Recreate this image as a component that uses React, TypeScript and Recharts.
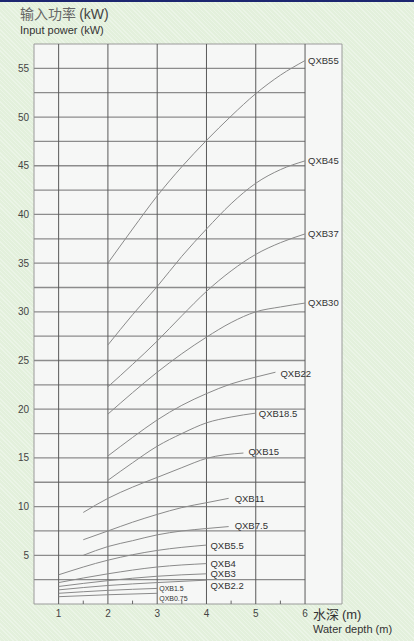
import { LineChart, Line, XAxis, YAxis, ReferenceLine, ReferenceArea } from 'recharts';

// curve points: [water depth m, input power kW]
const qxb55 = [[2, 35], [2.5, 38.5], [3, 41.9], [3.5, 44.9], [4, 47.6], [4.5, 50.1], [5, 52.4], [5.5, 54.3], [6, 55.8]];
const qxb45 = [[2, 26.6], [2.5, 29.7], [3, 32.6], [3.5, 35.7], [4, 38.5], [4.5, 41.1], [5, 43.2], [5.5, 44.6], [6, 45.5]];
const qxb37 = [[2, 22.3], [2.5, 24.6], [3, 27.0], [3.5, 29.6], [4, 32.1], [4.5, 34.2], [5, 35.9], [5.5, 37.1], [6, 38.0]];
const qxb30 = [[2, 19.5], [2.5, 21.7], [3, 23.8], [3.5, 25.7], [4, 27.4], [4.5, 28.9], [5, 30.0], [5.5, 30.5], [6, 30.9]];
const qxb22 = [[2, 15.2], [2.5, 17.1], [3, 18.9], [3.5, 20.4], [4, 21.6], [4.5, 22.6], [5, 23.3], [5.4, 23.8]];
const qxb18 = [[2, 12.7], [2.5, 14.5], [3, 16.2], [3.5, 17.5], [4, 18.6], [4.5, 19.2], [5, 19.6]];
const qxb15 = [[1.5, 9.4], [2, 10.85], [2.5, 12.0], [3, 13.0], [3.5, 14.0], [4, 14.95], [4.75, 15.5]];
const qxb11 = [[1.5, 6.6], [2, 7.5], [2.5, 8.4], [3, 9.2], [3.5, 9.9], [4, 10.4], [4.45, 10.85]];
const qxb75 = [[1.5, 5.0], [2, 5.9], [2.5, 6.5], [3, 7.1], [3.5, 7.5], [4, 7.75], [4.45, 7.95]];
const qxb55s = [[1, 3.0], [2, 4.5], [3, 5.5], [4, 6.05]];
const qxb4 = [[1, 2.2], [2, 3.1], [3, 3.8], [4, 4.15]];
const qxb3 = [[1, 1.8], [2, 2.4], [3, 2.85], [4, 3.1]];
const qxb22s = [[1, 1.45], [2, 1.9], [3, 2.2], [4, 2.45]];
const qxb15s = [[1, 1.1], [2, 1.4], [3, 1.6]];
const qxb075 = [[1, 0.75], [2, 0.95], [3, 1.1]];

const xTicks = [1, 2, 3, 4, 5, 6];
const yTicks = [5, 10, 15, 20, 25, 30, 35, 40, 45, 50, 55];
const yGrid = [2.5, 5, 7.5, 10, 12.5, 15, 17.5, 20, 22.5, 25, 27.5, 30, 32.5, 35, 37.5, 40, 42.5, 45, 47.5, 50, 52.5, 55];
const halfTicks = [1.5, 2.5, 3.5, 4.5, 5.5];

const toPts = (a: number[][]) => a.map(([x, y]) => ({ x, y }));

const series = [
  { name: 'QXB55', pts: qxb55, dx: 3, dy: 0, fs: 9.5 },
  { name: 'QXB45', pts: qxb45, dx: 3, dy: 0, fs: 9.5 },
  { name: 'QXB37', pts: qxb37, dx: 3, dy: 0, fs: 9.5 },
  { name: 'QXB30', pts: qxb30, dx: 3, dy: 0, fs: 9.5 },
  { name: 'QXB22', pts: qxb22, dx: 5, dy: 1, fs: 9.5 },
  { name: 'QXB18.5', pts: qxb18, dx: 3, dy: 1, fs: 9.5 },
  { name: 'QXB15', pts: qxb15, dx: 5, dy: -1, fs: 9.5 },
  { name: 'QXB11', pts: qxb11, dx: 6, dy: 0, fs: 9.5 },
  { name: 'QXB7.5', pts: qxb75, dx: 6, dy: -1, fs: 9.5 },
  { name: 'QXB5.5', pts: qxb55s, dx: 4, dy: 1, fs: 9.5 },
  { name: 'QXB4', pts: qxb4, dx: 4, dy: 0, fs: 9.5 },
  { name: 'QXB3', pts: qxb3, dx: 4, dy: 0, fs: 9.5 },
  { name: 'QXB2.2', pts: qxb22s, dx: 4, dy: 6, fs: 9.5 },
  { name: 'QXB1.5', pts: qxb15s, dx: 2, dy: 0.5, fs: 7 },
  { name: 'QXB0.75', pts: qxb075, dx: 2, dy: 5, fs: 7 },
];

const font = 'Arial, "Liberation Sans", Helvetica, sans-serif';

const makeLabel = (s: (typeof series)[number]) => (p: any) => {
  if (p.index !== s.pts.length - 1) return null;
  return (
    <text key={s.name} x={p.x + s.dx} y={p.y + s.dy} dy="0.35em" fontSize={s.fs} fill="#333" fontFamily={font}>
      {s.name}
    </text>
  );
};

export default function App() {
  return (
    <div
      style={{
        position: 'fixed',
        left: 0,
        top: 0,
        width: 414,
        height: 641,
        backgroundColor: '#e3f0dc',
        backgroundImage: 'repeating-linear-gradient(45deg, rgba(255,255,255,0.3) 0 1px, transparent 1px 3px)',
        borderTop: '2px solid #1c2670',
        boxSizing: 'border-box',
        fontFamily: font,
        overflow: 'hidden',
      }}
    >
      <div style={{ position: 'absolute', left: 20, top: 1, fontSize: 14, lineHeight: '20px', color: '#666', fontFamily: '"Noto Sans CJK SC", sans-serif' }}>
        输入功率 <span style={{ fontFamily: font, color: '#444' }}>(kW)</span>
      </div>
      <div style={{ position: 'absolute', left: 20, top: 22, fontSize: 11, lineHeight: '12px', color: '#333' }}>Input power (kW)</div>
      <div style={{ position: 'absolute', left: 313, top: 604, fontSize: 13, lineHeight: '16px', color: '#333', fontFamily: '"Noto Sans CJK SC", sans-serif' }}>
        水深 <span style={{ fontFamily: font }}>(m)</span>
      </div>
      <div style={{ position: 'absolute', left: 313, top: 621, fontSize: 11, lineHeight: '13px', color: '#333' }}>Water depth (m)</div>
      <div style={{ position: 'absolute', left: 0, top: -2 }}>
        <LineChart width={414} height={641} margin={{ top: 44, right: 72, bottom: 0, left: 0 }}>
          <XAxis
            dataKey="x"
            type="number"
            domain={[0.5, 6.75]}
            ticks={xTicks}
            allowDataOverflow
            axisLine={false}
            tickLine={false}
            tickSize={0}
            tickMargin={6}
            height={37}
            tick={{ fontSize: 10, fill: '#444', fontFamily: font }}
          />
          <YAxis
            type="number"
            domain={[0, 57.5]}
            ticks={yTicks}
            allowDataOverflow
            axisLine={false}
            tickLine={false}
            tickSize={0}
            tickMargin={5}
            width={34}
            tick={{ fontSize: 10, fill: '#444', fontFamily: font }}
          />
          <ReferenceArea x1={0.5} x2={6.75} y1={0} y2={57.5} fill="#f6f7f6" fillOpacity={1} stroke="#9a9a9a" strokeWidth={1} ifOverflow="visible" />
          {yGrid.map((v) => (
            <ReferenceLine key={'h' + v} segment={[{ x: 0.5, y: v }, { x: 6, y: v }]} stroke="#8c8c8c" strokeWidth={1.3} />
          ))}
          {xTicks.map((v) => (
            <ReferenceLine key={'v' + v} x={v} stroke="#5a5a5a" strokeWidth={1} />
          ))}
          {halfTicks.map((v) => (
            <ReferenceLine key={'t' + v} segment={[{ x: v, y: 0 }, { x: v, y: 0.35 }]} stroke="#666" strokeWidth={1} />
          ))}
          {series.map((s) => (
            <Line
              key={s.name}
              data={toPts(s.pts)}
              dataKey="y"
              type="monotone"
              stroke="#8a8a8a"
              strokeWidth={1}
              dot={false}
              isAnimationActive={false}
              label={makeLabel(s)}
            />
          ))}
        </LineChart>
      </div>
    </div>
  );
}
